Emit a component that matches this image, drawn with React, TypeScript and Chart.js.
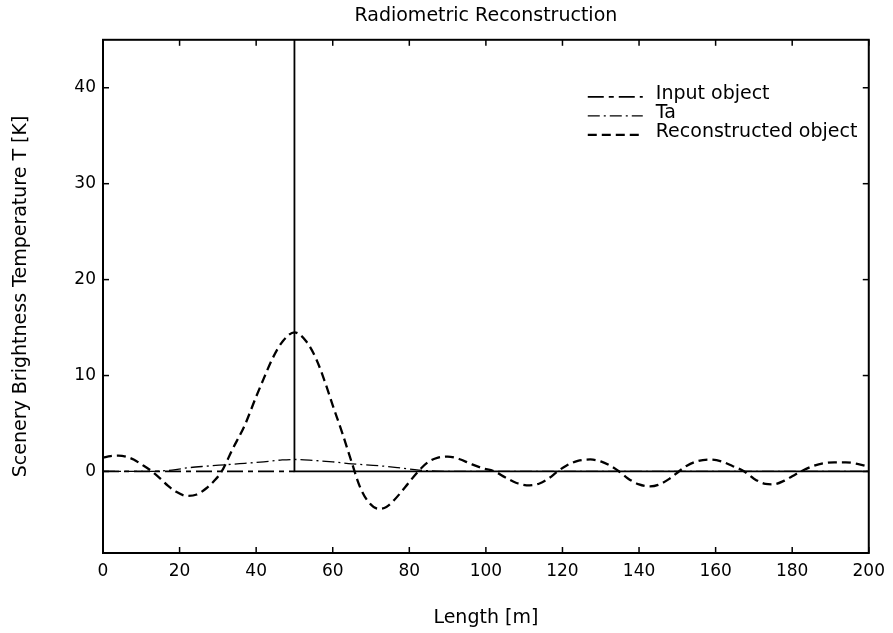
import React, { useEffect, useRef } from 'react';
import { Chart, registerables } from 'chart.js';

Chart.register(...registerables);

const TITLE = 'Radiometric Reconstruction';
const X_TITLE = 'Length [m]';
const Y_TITLE = 'Scenery Brightness Temperature T [K]';
const seriesLabels = ['Input object', 'Ta', 'Reconstructed object'];

const xTickValues = [0, 20, 40, 60, 80, 100, 120, 140, 160, 180, 200];
const yTickValues = [0, 10, 20, 30, 40];
const xRange = [0, 200];
const yRange = [-8.5, 45];

// Input object: zero everywhere with a delta at x = 50
const inputX = [0, 50, 50, 50, 200];
const inputY = [0, 0, 100, 0, 0];

// Ta (antenna temperature)
const taX = [0, 10, 15, 18, 22.6, 27, 32, 37, 42, 46.8, 50, 55, 60, 65, 72, 77, 82.5, 87, 92, 200];
const taY = [0, 0, 0.05, 0.15, 0.4, 0.55, 0.7, 0.85, 1.0, 1.2, 1.25, 1.15, 1.0, 0.8, 0.6, 0.4, 0.15, 0.04, 0, 0];

// Reconstructed object
const reconX = [
  0, 2, 4, 6, 8, 10, 12.8, 15, 17, 19, 22, 24.5, 27, 29, 31, 33.8, 37, 40, 42, 44.3, 47, 50, 53, 55.6,
  58, 60, 62.5, 65, 67, 69, 72, 74, 76, 79, 82.3, 85, 87.5, 90, 93, 96, 99, 102.3, 105, 108,
  111.4, 114, 116.5, 118.7, 121, 124, 127.3, 130, 132.5, 134.8, 137, 140, 142.9, 145, 148, 150.4,
  152.5, 155.5, 158.5, 161.5, 164.5, 167.5, 170, 173, 175, 178, 180, 182.3, 185, 188, 191, 194, 197, 200,
];
const reconY = [
  1.45, 1.6, 1.65, 1.55, 1.25, 0.75, 0, -0.75, -1.5, -2.1, -2.55, -2.4, -1.75, -1.0, 0, 2.3, 4.8, 7.8, 9.7, 11.8, 13.6, 14.5, 13.6, 11.8,
  9.3, 6.9, 4.0, 0.9, -1.5, -3.0, -3.9, -3.7, -3.0, -1.6, 0, 1.0, 1.45, 1.55, 1.3, 0.8, 0.35, 0, -0.6, -1.2,
  -1.45, -1.25, -0.7, 0, 0.6, 1.1, 1.25, 1.05, 0.6, 0, -0.7, -1.35, -1.55, -1.4, -0.75, 0,
  0.6, 1.1, 1.25, 1.05, 0.55, 0, -0.75, -1.3, -1.35, -0.95, -0.5, 0, 0.5, 0.85, 0.95, 0.95, 0.8, 0.5,
];

const FONT = 'DejaVu Sans';

const toPoints = (xs: number[], ys: number[]) => xs.map((x, i) => ({ x, y: ys[i] }));

const framePlugin = {
  id: 'frameAndLegend',
  afterDatasetsDraw(chart: any) {
    const { ctx, chartArea: a, scales } = chart;
    ctx.save();
    ctx.strokeStyle = '#000';
    ctx.setLineDash([]);
    ctx.lineWidth = 2;
    ctx.strokeRect(a.left, a.top, a.right - a.left, a.bottom - a.top);
    const tl = 6;
    ctx.lineWidth = 1.5;
    const seg = (x1: number, y1: number, x2: number, y2: number) => {
      ctx.beginPath();
      ctx.moveTo(x1, y1);
      ctx.lineTo(x2, y2);
      ctx.stroke();
    };
    scales.x.ticks.forEach((t: any) => {
      const px = scales.x.getPixelForValue(t.value);
      seg(px, a.bottom, px, a.bottom - tl);
      seg(px, a.top, px, a.top + tl);
    });
    scales.y.ticks.forEach((t: any) => {
      const py = scales.y.getPixelForValue(t.value);
      seg(a.left, py, a.left + tl, py);
      seg(a.right, py, a.right - tl, py);
    });

    // legend inside plot, top right
    const lineX0 = a.right - 281;
    const lineX1 = a.right - 226;
    const textX = a.right - 213;
    ctx.font = `19px "${FONT}"`;
    ctx.fillStyle = '#000';
    ctx.textAlign = 'left';
    ctx.textBaseline = 'alphabetic';
    chart.data.datasets.forEach((ds: any, i: number) => {
      const base = a.top + 59 + i * 19;
      ctx.lineWidth = ds.borderWidth;
      ctx.setLineDash(ds.legendDash || []);
      seg(lineX0, base - 2, lineX1, base - 2);
      ctx.setLineDash([]);
      ctx.fillText(ds.label, textX, base);
    });
    ctx.restore();
  },
};

export default function App() {
  const ref = useRef<HTMLCanvasElement | null>(null);

  useEffect(() => {
    if (!ref.current) return;
    Chart.defaults.font.family = FONT;
    Chart.defaults.color = '#000';
    const inputDash = [16, 5, 5, 5];
    const taDash = [12, 4, 2, 4];
    const reconDash = [9, 5];
    const chart = new Chart(ref.current, {
      type: 'line',
      data: {
        datasets: [
          {
            label: seriesLabels[0],
            data: toPoints(inputX, inputY),
            borderColor: '#000',
            borderWidth: 1.8,
            borderDash: inputDash,
            legendDash: inputDash,
            pointRadius: 0,
            tension: 0,
            segment: {
              borderDash: (c: any) => (c.p0.parsed.x < 50 && c.p1.parsed.x <= 50 && c.p1.parsed.y === 0 ? inputDash : []),
            },
          } as any,
          {
            label: seriesLabels[1],
            data: toPoints(taX, taY),
            borderColor: '#000',
            borderWidth: 1.3,
            borderDash: taDash,
            legendDash: taDash,
            pointRadius: 0,
            cubicInterpolationMode: 'monotone',
          } as any,
          {
            label: seriesLabels[2],
            data: toPoints(reconX, reconY),
            borderColor: '#000',
            borderWidth: 2.3,
            borderDash: reconDash,
            legendDash: reconDash,
            pointRadius: 0,
            cubicInterpolationMode: 'monotone',
          } as any,
        ],
      },
      options: {
        animation: false,
        responsive: false,
        devicePixelRatio: 1,
        layout: { padding: { left: 0, right: 20, top: 0, bottom: 0 } },
        plugins: {
          legend: { display: false },
          tooltip: { enabled: false },
          title: {
            display: true,
            text: TITLE,
            fullSize: false,
            color: '#000',
            font: { family: FONT, size: 19, weight: 'normal' },
            padding: { top: 5, bottom: 12 },
          },
        },
        scales: {
          x: {
            type: 'linear',
            min: xRange[0],
            max: xRange[1],
            grid: { display: false, drawTicks: false },
            border: { display: false },
            afterBuildTicks: (s: any) => {
              s.ticks = xTickValues.map((v) => ({ value: v }));
            },
            afterFit: (s: any) => {
              s.height = 80;
            },
            ticks: { font: { family: FONT, size: 17 }, color: '#000', padding: 8, maxRotation: 0, autoSkip: false },
            title: {
              display: true,
              text: X_TITLE,
              color: '#000',
              font: { family: FONT, size: 19 },
              padding: { top: 0, bottom: 4 },
            },
          },
          y: {
            type: 'linear',
            min: yRange[0],
            max: yRange[1],
            grid: { display: false, drawTicks: false },
            border: { display: false },
            afterBuildTicks: (s: any) => {
              s.ticks = yTickValues.map((v) => ({ value: v }));
            },
            afterFit: (s: any) => {
              s.width = 103;
            },
            ticks: { font: { family: FONT, size: 17 }, color: '#000', padding: 7 },
            title: {
              display: true,
              text: Y_TITLE,
              color: '#000',
              font: { family: FONT, size: 19 },
              padding: { top: 10, bottom: 0 },
            },
          },
        },
      } as any,
      plugins: [framePlugin],
    });
    return () => chart.destroy();
  }, []);

  return (
    <div style={{ position: 'absolute', left: 0, top: 0, width: 893, height: 633, background: '#fff' }}>
      <canvas ref={ref} width={893} height={633} />
    </div>
  );
}
